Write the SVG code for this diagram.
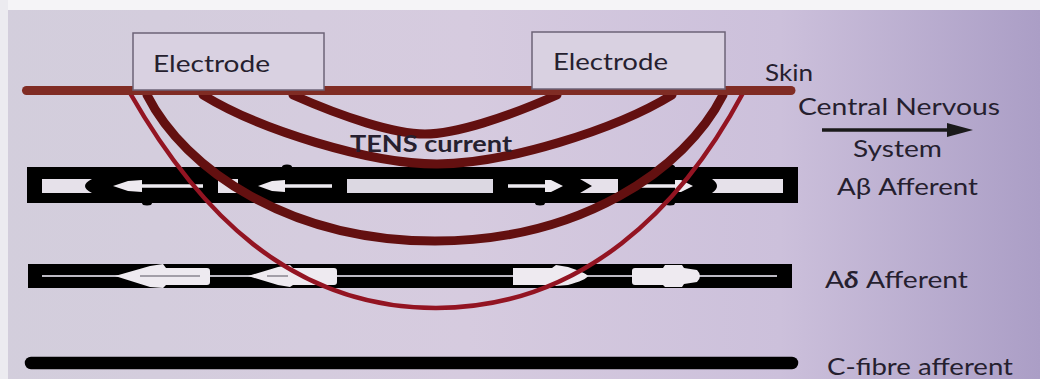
<svg xmlns="http://www.w3.org/2000/svg" width="1040" height="379" viewBox="0 0 1040 379">
<style>
.lbl{font-family:Lato,"Open Sans","Liberation Sans",sans-serif;fill:#261f2f;font-size:23px}
.box{fill:#d9d1e1;stroke:#6c6377;stroke-width:1.5}
.seg{fill:#e6e1ea}
.wht{fill:#eeeaf0}
.wline{stroke:#eeeaf0;stroke-width:3.5;fill:none}
.thick{fill:none;stroke:#631010;stroke-width:9;stroke-linecap:round}
.thin{fill:none;stroke:#931422;stroke-width:4.5;stroke-linecap:round}
.bump{fill:#000}
</style>
<defs>
<linearGradient id="bg" x1="0" y1="0" x2="1" y2="0">
<stop offset="0" stop-color="#d3cedc"/>
<stop offset="0.45" stop-color="#d6cbdf"/>
<stop offset="0.75" stop-color="#ccc0db"/>
<stop offset="1" stop-color="#ab9ec6"/>
</linearGradient>
<marker id="ah" viewBox="0 0 10 10" refX="2" refY="5" markerWidth="7.5" markerHeight="4" markerUnits="strokeWidth" orient="auto" preserveAspectRatio="none">
<path d="M0,0 L10,5 L0,10 Z" fill="#1a1a1a"/>
</marker>
</defs>
<rect x="0" y="0" width="1040" height="379" fill="url(#bg)"/>
<rect x="0" y="0" width="1040" height="10" fill="#f5f4f7"/>
<rect x="0" y="0" width="8" height="379" fill="#ecebf0"/>

<g id="ab-fiber">
<rect x="27" y="167" width="771" height="36" fill="#000"/>
<ellipse class="bump" cx="147" cy="203" rx="5" ry="2.5"/>
<ellipse class="bump" cx="287" cy="167" rx="5" ry="2.5"/>
<ellipse class="bump" cx="540" cy="203" rx="5" ry="2.5"/>
<ellipse class="bump" cx="670" cy="167" rx="5" ry="2.5"/>
<ellipse class="bump" cx="670" cy="203" rx="5" ry="2.5"/>
<path class="seg" d="M42,179 H92 Q78,186 92,193 H42 Z"/>
<path class="wht" d="M113,186 L128,181 L142,180 L142,192 L128,191 Z"/>
<line class="wline" x1="140" y1="186" x2="203" y2="186"/>
<path class="seg" d="M218,179 H238 V193 H218 Z"/>
<path class="wht" d="M258,186 L272,181 L285,180 L285,192 L272,191 Z"/>
<line class="wline" x1="283" y1="186" x2="332" y2="186"/>
<rect x="347" y="179" width="146" height="14" fill="#dcd8e2"/>
<line class="wline" x1="508" y1="186" x2="548" y2="186"/>
<path class="wht" d="M545,180 L551,180 L563,186 L551,192 L545,192 Z"/>
<path class="seg" d="M580,179 H618 V193 H580 L592,186 Z"/>
<line class="wline" x1="637" y1="186" x2="678" y2="186"/>
<path class="wht" d="M675,180 L681,180 L693,186 L681,192 L675,192 Z"/>
<path class="seg" d="M712,179 H783 V193 H712 Q722,186 712,179 Z"/>
</g>

<g id="ad-fiber">
<rect x="28" y="264" width="764" height="24" fill="#000"/>
<line x1="42" y1="276" x2="777" y2="276" stroke="#bdbac4" stroke-width="2"/>
<path class="wht" d="M115,276 L150,266 L163,264 L166,268 L207,268 Q210,268 210,271 L210,282 Q210,285 207,285 L166,285 L163,288 L150,287 Z"/>
<line x1="140" y1="276" x2="200" y2="276" stroke="#8a8690" stroke-width="1.5"/>
<path class="wht" d="M248,276 L278,267 L290,265 L293,268 L334,268 Q337,268 337,271 L337,282 Q337,285 334,285 L293,285 L290,287 L278,285 Z"/>
<line x1="267" y1="276" x2="288" y2="276" stroke="#8a8690" stroke-width="1.5"/>
<path class="wht" d="M513,268 L552,268 L556,265 L568,267 Q586,273 588,276 Q586,280 568,285 L556,286 L552,285 L513,285 Z"/>
<path class="wht" d="M632,271 Q632,268 635,268 L663,268 L665,265 L682,265 L684,268 L697,270 Q703,276 697,282 L684,284 L682,287 L665,287 L663,285 L635,285 Q632,285 632,282 Z"/>
</g>

<g id="c-fiber">
<line x1="31" y1="363" x2="792" y2="363" stroke="#000" stroke-width="12.5" stroke-linecap="round"/>
</g>

<g id="connectors">
<path class="thin" d="M130,93 C197,210 290,308 436,308 C583,308 682,207 743,93"/>
<path class="thick" d="M147,95 C185,170 290,241 435,241 C580,241 685,170 723,95"/>
<path class="thick" d="M203,95 C260,130 370,164 437,164 C505,164 615,130 672,95"/>
<path class="thick" stroke-width="8" d="M293,95 C345,118 395,134 425,134 C455,134 505,118 557,95"/>
<line x1="822" y1="130" x2="952" y2="130" stroke="#1a1a1a" stroke-width="3.5" marker-end="url(#ah)"/>
</g>

<g id="skin">
<line x1="26.5" y1="90.5" x2="791" y2="90.5" stroke="#802c24" stroke-width="9" stroke-linecap="round"/>
<text class="lbl" x="765" y="81" font-size="24" textLength="48" lengthAdjust="spacingAndGlyphs">Skin</text>
</g>

<g id="electrode1">
<rect class="box" x="133" y="33" width="191" height="57"/>
<text class="lbl" x="153" y="72" font-size="24" textLength="117" lengthAdjust="spacingAndGlyphs">Electrode</text>
</g>

<g id="electrode2">
<rect class="box" x="532" y="32" width="193" height="57"/>
<text class="lbl" x="553" y="70" font-size="24" textLength="115" lengthAdjust="spacingAndGlyphs">Electrode</text>
</g>

<g id="tens-label">
<text class="lbl" x="350" y="152" font-size="24" font-weight="bold" textLength="162" lengthAdjust="spacingAndGlyphs">TENS current</text>
</g>

<g id="cns-label">
<text class="lbl" x="798" y="115" textLength="202" lengthAdjust="spacingAndGlyphs">Central Nervous</text>
<text class="lbl" x="853" y="157" textLength="89" lengthAdjust="spacingAndGlyphs">System</text>
</g>

<g id="labels">
<text class="lbl" x="837" y="195" font-size="22" textLength="141" lengthAdjust="spacingAndGlyphs">Aβ Afferent</text>
<text class="lbl" x="825" y="288" font-size="23" textLength="143" lengthAdjust="spacingAndGlyphs">A<tspan font-weight="bold" font-style="italic">δ</tspan> Afferent</text>
<text class="lbl" x="827" y="375" font-size="24" textLength="186" lengthAdjust="spacingAndGlyphs">C-fibre afferent</text>
</g>
</svg>
